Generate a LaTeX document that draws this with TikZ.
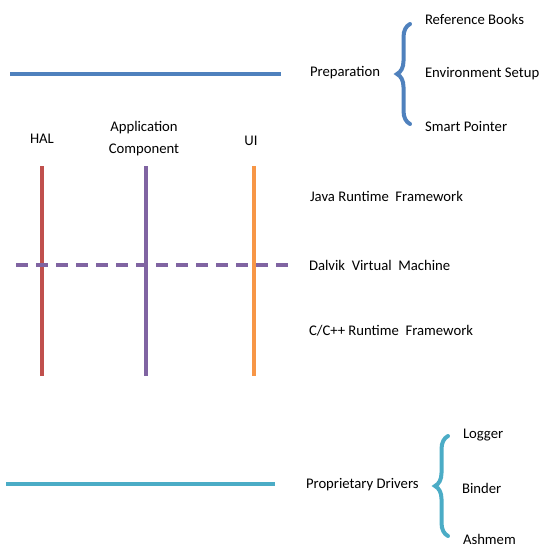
\documentclass[tikz,border=0pt]{standalone}
\usepackage{fontspec}
\setmainfont{Carlito}
\usetikzlibrary{decorations.pathreplacing}
\definecolor{pb}{RGB}{79, 129, 189}
\definecolor{pt}{RGB}{75, 172, 198}
\definecolor{pr}{RGB}{192, 80, 77}
\definecolor{pp}{RGB}{128, 100, 162}
\definecolor{po}{RGB}{247, 150, 70}
\tikzset{lbl/.style = {anchor = west, inner sep = 0pt, font = \fontsize{14.7}{17}\selectfont},
  clbl/.style = {lbl, anchor = center},
  brc/.style = {decorate, decoration = {brace, amplitude = 13pt}, line width = 4pt, line cap = round}}

\begin{document}
\begin{tikzpicture}[x = 1pt, y = -1pt, line width = 4pt]
\useasboundingbox (0,0) rectangle (556,551);
\draw[pb] (10,74) -- (281,74);
\draw[pt] (6,484) -- (275,484);
\draw[pr] (42,166) -- (42,376);
\draw[pp] (146,166) -- (146,376);
\draw[po] (254,166) -- (254,376);
\draw[pp, dash pattern = on 12pt off 8pt] (16,265) -- (289,265);
\draw[pb, brc] (410,124) -- (410,24);
\draw[pt, brc] (448,536) -- (448,436);
\node[lbl] (prep) at (308,73) {Preparation};
\node[lbl] (books) at (423,19) {Reference Books};
\node[lbl] (env) at (423,74) {Environment Setup};
\node[lbl] (sp) at (423,126) {Smart Pointer};
\node[clbl] (hal) at (42,139) {HAL};
\node[clbl] (app) at (144,128) {Application};
\node[clbl] (comp) at (144,150) {Component};
\node[clbl] (ui) at (251,141) {UI};
\node[lbl] (java) at (308,196) {Java Runtime\ \ Framework};
\node[lbl] (dvm) at (307,265) {Dalvik\ \ Virtual\ \ Machine};
\node[lbl] (cpp) at (307,331) {C/C++ Runtime\ \ Framework};
\node[lbl] (drv) at (304,485) {Proprietary Drivers};
\node[lbl] (log) at (461,435) {Logger};
\node[lbl] (bnd) at (460,488) {Binder};
\node[lbl] (ash) at (461,539) {Ashmem};
\end{tikzpicture}
\end{document}
